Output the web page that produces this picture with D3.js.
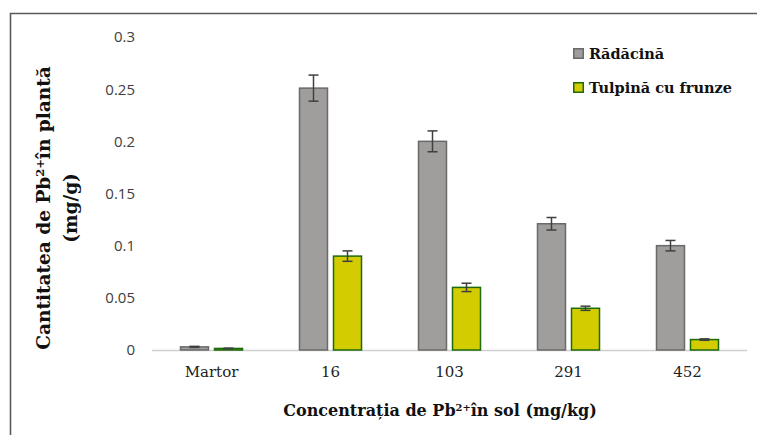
<!DOCTYPE html>
<html>
<head>
<meta charset="utf-8">
<script src="https://cdn.jsdelivr.net/npm/d3@7"></script>
<style>
  body { margin: 0; background: #fff; }
  svg { display: block; }
  .serif { font-family: "DejaVu Serif", "Liberation Serif", serif; }
</style>
</head>
<body>
<svg id="chart" width="757" height="435"></svg>
<script>
var categories = ["Martor", "16", "103", "291", "452"];
var seriesNames = ["Rădăcină", "Tulpină cu frunze"];
var radacina = [0.003, 0.251, 0.2, 0.121, 0.1];
var radacinaErr = [0.0005, 0.0125, 0.01, 0.006, 0.005];
var tulpina = [0.0015, 0.09, 0.06, 0.04, 0.01];
var tulpinaErr = [0.0003, 0.005, 0.004, 0.002, 0.0007];
var yTicks = [0, 0.05, 0.1, 0.15, 0.2, 0.25, 0.3];

var fills = ["#a09d9d", "#d2cc00"];
var strokes = ["#6b6969", "#1d6b0a"];

var svg = d3.select("#chart");

// frame (top + left only, like the cropped original)
svg.append("path")
  .attr("d", "M10.5,435 L10.5,13.5 L757,13.5")
  .attr("fill", "none")
  .attr("stroke", "#5a5a5a")
  .attr("stroke-width", 1.6);

var x0 = d3.scaleBand().domain(categories).range([152, 747]);
var x1 = d3.scaleBand().domain(seriesNames)
  .range([28.5, 90.5]).paddingInner(0.1765);
var y = d3.scaleLinear().domain([0, 0.3]).range([350, 37]);

// y tick labels
svg.append("g").selectAll("text")
  .data(yTicks)
  .enter().append("text")
  .attr("x", 135)
  .attr("y", function(d){ return y(d); })
  .attr("dy", "0.36em")
  .attr("text-anchor", "end")
  .attr("font-family", "Open Sans")
  .attr("font-size", 15)
  .attr("fill", "#404040")
  .text(function(d){ return d; });

// x axis line
svg.append("line")
  .attr("x1", 152).attr("x2", 747)
  .attr("y1", y(0) + 0.5).attr("y2", y(0) + 0.5)
  .attr("stroke", "#d0d0d0")
  .attr("stroke-width", 1.5);

var data = [];
categories.forEach(function(c, i){
  data.push({cat: c, s: seriesNames[0], si: 0, v: radacina[i], e: radacinaErr[i]});
  data.push({cat: c, s: seriesNames[1], si: 1, v: tulpina[i], e: tulpinaErr[i]});
});

var bars = svg.append("g");
bars.selectAll(".bar")
  .data(data)
  .enter().append("rect")
  .attr("class", "bar")
  .attr("x", function(d){ return x0(d.cat) + x1(d.s); })
  .attr("y", function(d){ return y(d.v); })
  .attr("width", x1.bandwidth())
  .attr("height", function(d){ return y(0) - y(d.v); })
  .attr("fill", function(d){ return fills[d.si]; })
  .attr("stroke", function(d){ return strokes[d.si]; })
  .attr("stroke-width", 1.5);

// error bars
var eb = svg.append("g")
  .attr("stroke", "#404040")
  .attr("stroke-width", 1.5);
data.forEach(function(d){
  var cx = x0(d.cat) + x1(d.s) + x1.bandwidth() / 2;
  var top = y(d.v + d.e), bot = y(d.v - d.e);
  eb.append("line").attr("x1", cx).attr("x2", cx).attr("y1", top).attr("y2", bot);
  eb.append("line").attr("x1", cx - 5).attr("x2", cx + 5).attr("y1", top).attr("y2", top);
  eb.append("line").attr("x1", cx - 5).attr("x2", cx + 5).attr("y1", bot).attr("y2", bot);
});

// x tick labels
svg.append("g").selectAll("text")
  .data(categories)
  .enter().append("text")
  .attr("class", "serif")
  .attr("x", function(d){ return x0(d) + x0.bandwidth() / 2; })
  .attr("y", 377)
  .attr("text-anchor", "middle")
  .attr("font-size", 15)
  .attr("fill", "#222")
  .text(function(d){ return d; });

// legend
var leg = svg.append("g").selectAll("g")
  .data(seriesNames)
  .enter().append("g")
  .attr("transform", function(d, i){ return "translate(573," + (48 + i * 34) + ")"; });
leg.append("rect")
  .attr("x", 0.75).attr("y", 0.75)
  .attr("width", 9.5).attr("height", 9.5)
  .attr("fill", function(d, i){ return fills[i]; })
  .attr("stroke", function(d, i){ return strokes[i]; })
  .attr("stroke-width", 1.5);
leg.append("text")
  .attr("class", "serif")
  .attr("x", 16)
  .attr("y", 10.5)
  .attr("font-weight", "bold")
  .attr("font-size", 14.5)
  .attr("fill", "#111")
  .text(function(d){ return d; });

// axis titles
function title(sel, before, after) {
  sel.append("tspan").text(before);
  sel.append("tspan").attr("font-size", "0.62em").attr("dy", "-0.55em").text("2+");
  sel.append("tspan").attr("dy", "0.34em").text(after);
}

var xt = svg.append("text")
  .attr("class", "serif")
  .attr("x", 440)
  .attr("y", 416)
  .attr("text-anchor", "middle")
  .attr("font-weight", "bold")
  .attr("font-size", 16)
  .attr("fill", "#111");
title(xt, "Concentrația de Pb", "în sol (mg/kg)");

var yt = svg.append("g")
  .attr("transform", "translate(50,208) rotate(-90)");
var yt1 = yt.append("text")
  .attr("class", "serif")
  .attr("text-anchor", "middle")
  .attr("font-weight", "bold")
  .attr("font-size", 18.5)
  .attr("fill", "#111");
title(yt1, "Cantitatea de Pb", "în plantă");
yt.append("text")
  .attr("class", "serif")
  .attr("y", 27)
  .attr("text-anchor", "middle")
  .attr("font-weight", "bold")
  .attr("font-size", 18.5)
  .attr("fill", "#111")
  .text("(mg/g)");
</script>
</body>
</html>
